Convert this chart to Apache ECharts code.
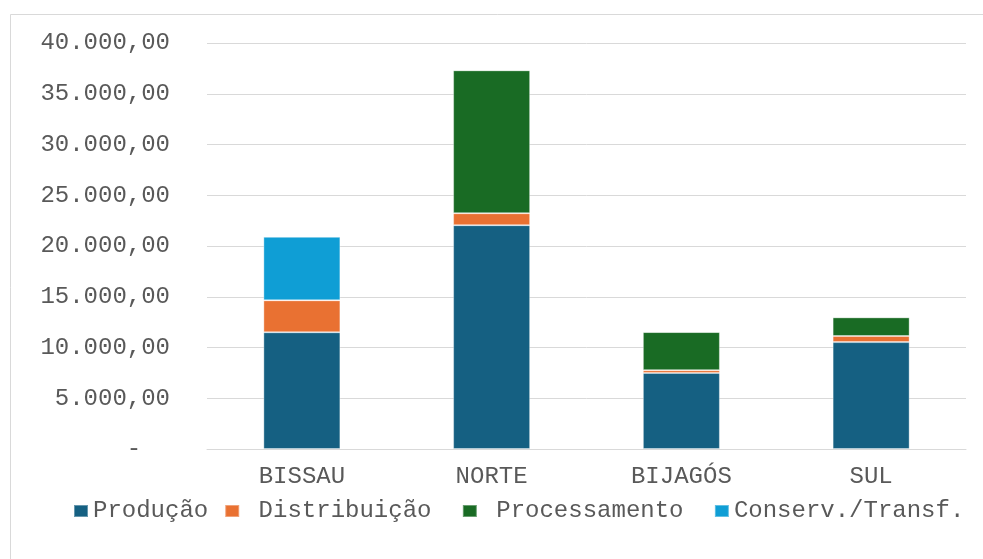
<!DOCTYPE html>
<html>
<head>
<meta charset="utf-8">
<script src="https://cdn.jsdelivr.net/npm/echarts@6/dist/echarts.min.js"></script>
<style>
  html, body { margin: 0; padding: 0; background: #ffffff; }
  #chart { width: 983px; height: 559px; }
</style>
</head>
<body>
<div id="chart"></div>
<script>
// Regions along the x axis
const regions = ['BISSAU', 'NORTE', 'BIJAGÓS', 'SUL'];

// Stacked components per region
const producao      = [11500, 22050, 7500, 10530];
const distribuicao  = [3150, 1180, 270, 600];
const processamento = [0, 14080, 3750, 1840];
const conservTransf = [6250, 0, 0, 0];

// Series names and the text shown for them in the legend
const seriesNames = ['Produção', 'Distribuição', 'Processamento', 'Conserv./Transf.'];
const legendText  = ['Produção', ' Distribuição ', ' Processamento ', 'Conserv./Transf.'];

// Value axis ticks
const yMin = 0, yMax = 40000, yStep = 5000;

const colors = ['#156082', '#E97132', '#196B24', '#0F9ED5'];
const textColor = '#595959';
const font = "'Liberation Mono', 'Courier New', monospace";

function fmtValue(v) {
  if (v === 0) return '-  ';
  const s = Math.round(v).toString().replace(/\B(?=(\d{3})+(?!\d))/g, '.');
  return s + ',00';
}

const seriesData = [producao, distribuicao, processamento, conservTransf];

const chart = echarts.init(document.getElementById('chart'), null, { renderer: 'canvas' });

chart.setOption({
  animation: false,
  backgroundColor: '#ffffff',
  color: colors,
  graphic: [{
    type: 'rect',
    shape: { x: 10.5, y: 14.5, width: 990, height: 560 },
    style: { fill: 'none', stroke: '#d9d9d9', lineWidth: 1 },
    silent: true
  }],
  grid: { left: 207, right: 17, top: 43, bottom: 110, containLabel: false },
  legend: {
    left: 68,
    top: 494,
    itemWidth: 14,
    itemHeight: 12,
    itemGap: 16,
    icon: 'rect',
    data: seriesNames,
    formatter: name => legendText[seriesNames.indexOf(name)],
    textStyle: { fontFamily: font, fontSize: 24, color: textColor }
  },
  xAxis: {
    type: 'category',
    data: regions,
    axisLine: { show: true, lineStyle: { color: '#d9d9d9', width: 1 } },
    axisTick: { show: false },
    axisLabel: { fontFamily: font, fontSize: 24, color: textColor, margin: 16 }
  },
  yAxis: {
    type: 'value',
    min: yMin,
    max: yMax,
    interval: yStep,
    axisLine: { show: false },
    axisTick: { show: false },
    splitLine: { lineStyle: { color: '#d9d9d9', width: 1 } },
    axisLabel: {
      fontFamily: font, fontSize: 24, color: textColor, margin: 37,
      formatter: fmtValue
    }
  },
  series: seriesNames.map((name, i) => ({
    name: name,
    type: 'bar',
    stack: 'total',
    barWidth: 77,
    data: seriesData[i],
    itemStyle: { borderColor: 'rgba(255,255,255,0.35)', borderWidth: 1 }
  }))
});
</script>
</body>
</html>
